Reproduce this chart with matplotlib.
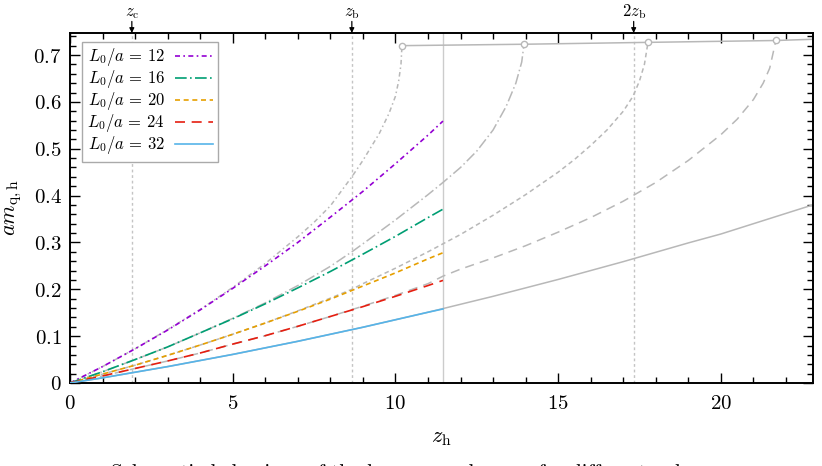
import numpy as np
import matplotlib
matplotlib.use("Agg")
import matplotlib.pyplot as plt
from matplotlib.ticker import MultipleLocator, FuncFormatter

plt.rcParams['mathtext.fontset'] = 'cm'
plt.rcParams['font.family'] = ['DejaVu Serif']

# special points on the z_h axis
z_c = 1.9
z_b = 8.66
z_cut = 11.46

# coloured curves, L0/a = 12, 16, 20, 24, 32 (up to z_cut)
z_col = [0, 1, 2, 3, 4, 5, 6, 7, 8, 9, 10, 11, 11.46]
m_12 = [0, 0.035, 0.073, 0.113, 0.156, 0.202, 0.250, 0.300, 0.354, 0.409, 0.468, 0.529, 0.559]
m_16 = [0, 0.024, 0.050, 0.077, 0.107, 0.137, 0.169, 0.203, 0.238, 0.275, 0.313, 0.353, 0.371]
m_20 = [0, 0.019, 0.038, 0.059, 0.081, 0.104, 0.128, 0.153, 0.179, 0.207, 0.235, 0.265, 0.278]
m_24 = [0, 0.015, 0.031, 0.047, 0.064, 0.083, 0.101, 0.121, 0.142, 0.163, 0.185, 0.208, 0.219]
m_32 = [0, 0.011, 0.023, 0.035, 0.048, 0.061, 0.075, 0.089, 0.104, 0.119, 0.135, 0.151, 0.158]

# grey (reference) curves
gz_12 = [0, 1, 2, 3, 4, 5, 6, 7, 7.5, 8, 8.66, 9, 9.5, 9.8, 10.0, 10.1, 10.17, 10.2]
gm_12 = [0, 0.035, 0.073, 0.114, 0.157, 0.204, 0.255, 0.312, 0.343, 0.378, 0.44, 0.475,
         0.532, 0.575, 0.612, 0.645, 0.68, 0.72]
gz_16 = [0, 1, 2, 3, 4, 5, 6, 7, 8, 8.66, 9, 10, 11, 11.46, 12, 12.5, 13, 13.4, 13.7, 13.88, 13.95]
gm_16 = [0, 0.024, 0.050, 0.077, 0.107, 0.138, 0.171, 0.208, 0.249, 0.28, 0.297, 0.348, 0.402,
         0.428, 0.46, 0.495, 0.54, 0.59, 0.64, 0.685, 0.723]
gz_20 = [0, 1, 2, 3, 4, 5, 6, 7, 8, 8.66, 9, 10, 11, 11.46, 12, 13, 14, 15, 15.5, 16, 16.5,
         17, 17.3, 17.5, 17.65, 17.76]
gm_20 = [0, 0.019, 0.038, 0.059, 0.081, 0.104, 0.128, 0.154, 0.181, 0.2, 0.212, 0.245, 0.28,
         0.297, 0.317, 0.358, 0.402, 0.45, 0.477, 0.507, 0.54, 0.58, 0.612, 0.645, 0.68, 0.727]
gz_24 = [0, 1, 2, 3, 4, 5, 6, 7, 8, 9, 10, 11, 11.46, 12, 13, 14, 15, 16, 17, 18, 19, 20,
         20.5, 21, 21.3, 21.5, 21.69]
gm_24 = [0, 0.015, 0.031, 0.047, 0.064, 0.083, 0.101, 0.121, 0.142, 0.164, 0.187, 0.212, 0.228,
         0.243, 0.267, 0.293, 0.322, 0.353, 0.388, 0.428, 0.475, 0.53, 0.563, 0.605, 0.64, 0.672, 0.731]
gz_32 = [0, 1, 2, 3, 4, 5, 6, 7, 8, 9, 10, 11, 12, 13, 14, 15, 16, 17, 18, 19, 20, 21, 22, 23]
gm_32 = [0, 0.011, 0.023, 0.035, 0.048, 0.061, 0.075, 0.089, 0.104, 0.119, 0.135, 0.151, 0.168,
         0.185, 0.203, 0.221, 0.240, 0.259, 0.279, 0.299, 0.318, 0.340, 0.362, 0.384]

# end points of the grey curves, and the line through them
end_z = [10.2, 13.95, 17.76, 21.69]
end_m = [0.72, 0.723, 0.727, 0.731]
edge_z = [10.2, 13.95, 17.76, 21.69, 23]
edge_m = [0.72, 0.723, 0.727, 0.731, 0.734]

labels = [r'$L_0/a\,{=}\,12$', r'$L_0/a\,{=}\,16$', r'$L_0/a\,{=}\,20$',
          r'$L_0/a\,{=}\,24$', r'$L_0/a\,{=}\,32$']
colors = ['#9400d3', '#009e73', '#e69f00', '#e51e10', '#56b4e9']
styles = [(0, (3, 2, 1, 2)), (0, (7, 2, 1, 2)), (0, (3, 2.2)), (0, (6, 4)), '-']

fig = plt.figure(figsize=(8.22, 4.66), dpi=100)
ax = fig.add_axes([70/822, 1-383/466, 743/822, 350/466])

grey = '#b8b8b8'
ax.axvline(z_c, color='#c4c4c4', lw=1, ls=(0, (2, 2)), zorder=1)
ax.axvline(z_b, color='#c4c4c4', lw=1, ls=(0, (2, 2)), zorder=1)
ax.axvline(2*z_b, color='#c4c4c4', lw=1, ls=(0, (2, 2)), zorder=1)
ax.axvline(z_cut, color='#cccccc', lw=1, zorder=1)

greys = [(gz_12, gm_12), (gz_16, gm_16), (gz_20, gm_20), (gz_24, gm_24), (gz_32, gm_32)]
for (gz, gm), st in zip(greys, styles):
    ax.plot(gz, gm, color=grey, lw=1.1, ls=st, zorder=2)
ax.plot(edge_z, edge_m, color=grey, lw=1.1, zorder=2)
ax.plot(end_z, end_m, 'o', ms=4.5, mfc='white', mec=grey, mew=1, zorder=3)

for m, lab, c, st in zip([m_12, m_16, m_20, m_24, m_32], labels, colors, styles):
    ax.plot(z_col, m, color=c, lw=1.2, ls=st, label=lab, zorder=4)

ax.set_xlim(0, 22.83)
ax.set_ylim(0, 0.747)
ax.xaxis.set_major_locator(MultipleLocator(5))
ax.xaxis.set_minor_locator(MultipleLocator(1))
ax.yaxis.set_major_locator(MultipleLocator(0.1))
ax.yaxis.set_minor_locator(MultipleLocator(0.02))
ax.xaxis.set_major_formatter(FuncFormatter(lambda v, p: '$%g$' % round(v, 3)))
ax.yaxis.set_major_formatter(FuncFormatter(lambda v, p: '$%g$' % round(v, 3)))
ax.tick_params(which='both', direction='in', top=True, right=True, labelsize=15, width=1)
ax.tick_params(which='major', length=7)
ax.tick_params(axis='x', which='major', pad=8)
ax.tick_params(axis='y', which='major', pad=6)
ax.tick_params(which='minor', length=4)
for s in ax.spines.values():
    s.set_linewidth(1.4)

ax.set_xlabel(r'$z_{\mathrm{h}}$', fontsize=16, labelpad=9)
ax.set_ylabel(r'$am_{\mathrm{q,h}}$', fontsize=16)
ax.yaxis.set_label_coords(-0.062, 0.5)

for zz, txt in [(z_c, r'$z_{\mathrm{c}}$'), (z_b, r'$z_{\mathrm{b}}$'), (2*z_b, r'$2z_{\mathrm{b}}$')]:
    ax.annotate('', xy=(zz, 1.0), xycoords=('data', 'axes fraction'),
                xytext=(zz, 1.033), textcoords=('data', 'axes fraction'),
                arrowprops=dict(arrowstyle='-|>', color='black', lw=0.9,
                                shrinkA=0, shrinkB=0, mutation_scale=7))
    ax.text(zz, 1.035, txt, transform=ax.get_xaxis_transform(), ha='center',
            va='bottom', fontsize=12)

leg = ax.legend(loc='upper left', bbox_to_anchor=(0.01, 0.99), markerfirst=False,
                fontsize=12, handlelength=2.3, labelspacing=0.0, handletextpad=0.6,
                borderpad=0.3, borderaxespad=0.3, fancybox=False, framealpha=1)
leg.get_frame().set_edgecolor('#aaaaaa')
leg.get_frame().set_linewidth(1)

fig.text(0.51, 1-464/466, 'Schematic behaviour of the heavy-quark mass for different volumes',
         ha='center', va='top', fontsize=15, family='cmr10')

fig.savefig('out.png', dpi=100)
